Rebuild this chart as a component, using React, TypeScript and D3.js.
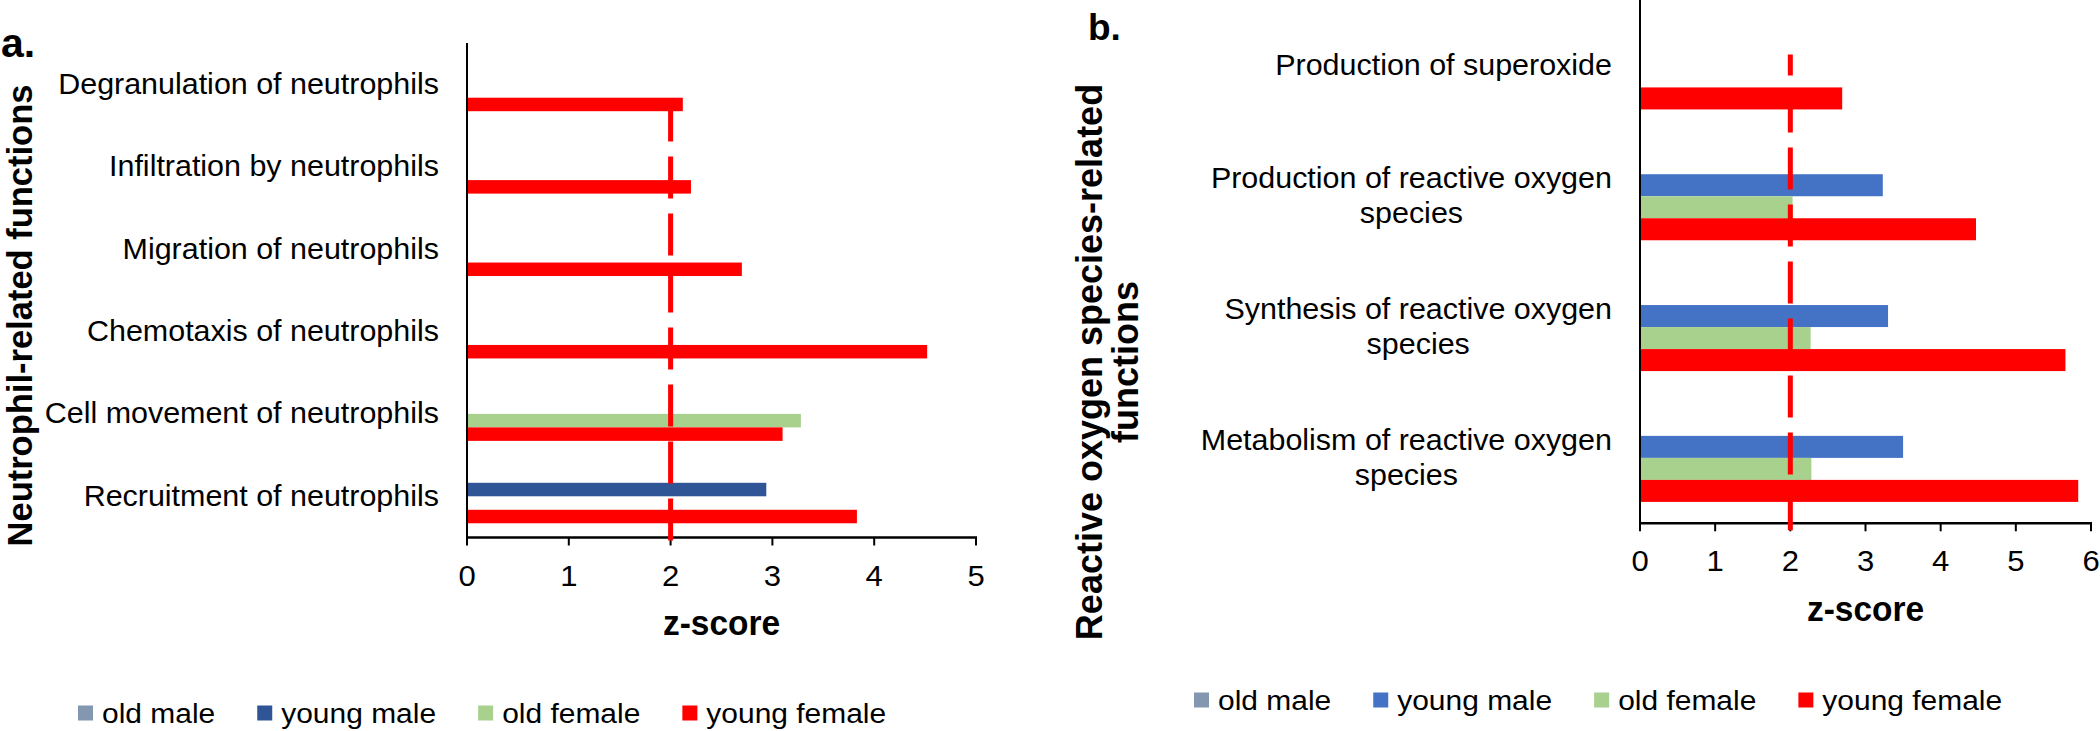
import * as d3 from "d3";

const FONT = '"Liberation Sans", Arial, Helvetica, sans-serif';

// series shared by both panels
const seriesNames = ["old male", "young male", "old female", "young female"];
const threshold = 2;

// panel a: neutrophil-related functions
const neutFunctions = [
  "Degranulation of neutrophils",
  "Infiltration by neutrophils",
  "Migration of neutrophils",
  "Chemotaxis of neutrophils",
  "Cell movement of neutrophils",
  "Recruitment of neutrophils",
];
const neutOldMale = [null, null, null, null, null, null];
const neutYoungMale = [null, null, null, null, null, 2.94];
const neutOldFemale = [null, null, null, null, 3.28, null];
const neutYoungFemale = [2.12, 2.2, 2.7, 4.52, 3.1, 3.83];
const neutTicks = [0, 1, 2, 3, 4, 5];

// panel b: reactive oxygen species-related functions
const rosFunctions = [
  "Production of superoxide",
  "Production of reactive oxygen species",
  "Synthesis of reactive oxygen species",
  "Metabolism of reactive oxygen species",
];
const rosLabelLines = [
  ["Production of superoxide"],
  ["Production of reactive oxygen", "species"],
  ["Synthesis of reactive oxygen", "species"],
  ["Metabolism of reactive oxygen", "species"],
];
const rosOldMale = [null, null, null, null];
const rosYoungMale = [null, 3.23, 3.3, 3.5];
const rosOldFemale = [null, 2.03, 2.27, 2.28];
const rosYoungFemale = [2.69, 4.47, 5.66, 5.83];
const rosTicks = [0, 1, 2, 3, 4, 5, 6];

const colorsA = ["#8497B0", "#2F5597", "#A9D18E", "#FF0000"];
const colorsB = ["#8497B0", "#4472C4", "#A9D18E", "#FF0000"];

const ctx = document.createElement("canvas").getContext("2d");
function measure(text: string, size: number, weight = "normal") {
  ctx.font = `${weight} ${size}px "Liberation Sans"`;
  return ctx.measureText(text).width;
}

function SText({ x, y, sx = 1, size, bold = false, anchor = "start", rotate = 0, children }: any) {
  return (
    <text
      transform={`translate(${x},${y}) rotate(${rotate}) scale(${sx},1)`}
      fontFamily={FONT}
      fontSize={size}
      fontWeight={bold ? "bold" : "normal"}
      textAnchor={anchor}
      fill="#000"
    >
      {children}
    </text>
  );
}

function Panel(p: any) {
  const x = d3.scaleLinear().domain([0, d3.max(p.ticks) as number]).range([p.left, p.right]);
  const y = d3
    .scaleBand()
    .domain(p.categories)
    .range([p.top, p.bottom])
    .paddingInner(p.pad)
    .paddingOuter(p.pad / 2);
  const sub = d3.scaleBand().domain(seriesNames).range([0, y.bandwidth()]);
  const series = [p.oldMale, p.youngMale, p.oldFemale, p.youngFemale];
  const labelSize = 29;
  const sx = 1.05;

  const refTop = (y(p.categories[0]) as number) + (sub(p.refSeries) as number) + sub.bandwidth() / 2;

  // legend positions from text widths
  let lx = p.legendX;
  const legendItems = seriesNames.map((name, i) => {
    const item = { name, color: p.colors[i], x: lx };
    lx += 15 + 9 + measure(name, 28) * 1.07 + 42;
    return item;
  });

  return (
    <g>
      {/* bars */}
      {series.map((vals, si) =>
        p.categories.map((c: string, ci: number) =>
          vals[ci] == null ? null : (
            <rect
              key={`${si}-${ci}`}
              x={x(0)}
              y={(y(c) as number) + (sub(seriesNames[si]) as number)}
              width={x(vals[ci]) - x(0)}
              height={sub.bandwidth()}
              fill={p.colors[si]}
            />
          )
        )
      )}

      {/* axes */}
      <line x1={x(0)} x2={x(0)} y1={p.top} y2={p.bottom} stroke="#000" strokeWidth={2} />
      <line x1={x(0) - 1} x2={p.right + 1} y1={p.bottom} y2={p.bottom} stroke="#000" strokeWidth={2.5} />
      {p.ticks.map((t: number) => (
        <g key={t}>
          <line x1={x(t)} x2={x(t)} y1={p.bottom} y2={p.bottom + 8} stroke="#000" strokeWidth={2} />
          <SText x={x(t)} y={p.bottom + 48} size={labelSize} sx={1.07} anchor="middle">
            {t}
          </SText>
        </g>
      ))}

      {/* threshold line */}
      <line
        x1={x(threshold)}
        x2={x(threshold)}
        y1={refTop}
        y2={p.bottom + 7}
        stroke="#FF0000"
        strokeWidth={5}
        strokeDasharray="42 15"
        strokeDashoffset={p.dashOffset}
      />

      {/* category labels */}
      {p.categories.map((c: string, ci: number) => {
        const lines: string[] = p.labelLines[ci];
        const cy = (y(c) as number) + y.bandwidth() / 2;
        const maxW = d3.max(lines, (l) => measure(l, labelSize)) as number;
        const mid = p.labelRight - (maxW * sx) / 2;
        return lines.map((l, li) => (
          <SText
            key={`${ci}-${li}`}
            x={mid}
            y={cy + 9.5 - ((lines.length - 1) * 35) / 2 + li * 35}
            size={labelSize}
            sx={sx}
            anchor="middle"
          >
            {l}
          </SText>
        ));
      })}

      {/* axis titles */}
      <SText x={(p.left + p.right) / 2} y={p.bottom + 97.5} size={36} sx={0.93} bold anchor="middle">
        z-score
      </SText>
      {p.yTitle.map((l: string, i: number) => (
        <SText key={l} x={p.yTitleX[i]} y={p.yTitleY} size={p.yTitleSize} bold anchor="middle" rotate={-90}>
          {l}
        </SText>
      ))}
      <SText x={p.letterX} y={p.letterY} size={p.letterSize} bold>
        {p.letter}
      </SText>

      {/* legend */}
      {legendItems.map((it) => (
        <g key={it.name}>
          <rect x={it.x} y={p.legendY - 7.5} width={15} height={15} fill={it.color} />
          <SText x={it.x + 24} y={p.legendY + 10} size={28} sx={1.07}>
            {it.name}
          </SText>
        </g>
      ))}
    </g>
  );
}

export default function App() {
  return (
    <svg
      width={2100}
      height={731}
      style={{ position: "absolute", left: 0, top: 0, background: "#fff" }}
    >
      <Panel
        categories={neutFunctions}
        labelLines={neutFunctions.map((d) => [d])}
        oldMale={neutOldMale}
        youngMale={neutYoungMale}
        oldFemale={neutOldFemale}
        youngFemale={neutYoungFemale}
        ticks={neutTicks}
        colors={colorsA}
        left={467}
        right={976}
        top={43}
        bottom={537.5}
        pad={0.345}
        labelRight={439}
        refSeries="young female"
        dashOffset={5}
        yTitle={["Neutrophil-related functions"]}
        yTitleX={[31.5]}
        yTitleY={315.5}
        yTitleSize={34.5}
        letter="a."
        letterX={1}
        letterY={57}
        letterSize={41}
        legendX={78}
        legendY={713}
      />
      <Panel
        categories={rosFunctions}
        labelLines={rosLabelLines}
        oldMale={rosOldMale}
        youngMale={rosYoungMale}
        oldFemale={rosOldFemale}
        youngFemale={rosYoungFemale}
        ticks={rosTicks}
        colors={colorsB}
        left={1640}
        right={2091}
        top={0}
        bottom={523.3}
        pad={0.327}
        labelRight={1612}
        refSeries="young male"
        dashOffset={21}
        yTitle={["Reactive oxygen species-related", "functions"]}
        yTitleX={[1102, 1138]}
        yTitleY={362}
        yTitleSize={36}
        letter="b."
        letterX={1088}
        letterY={40}
        letterSize={37}
        legendX={1194}
        legendY={700}
      />
    </svg>
  );
}
